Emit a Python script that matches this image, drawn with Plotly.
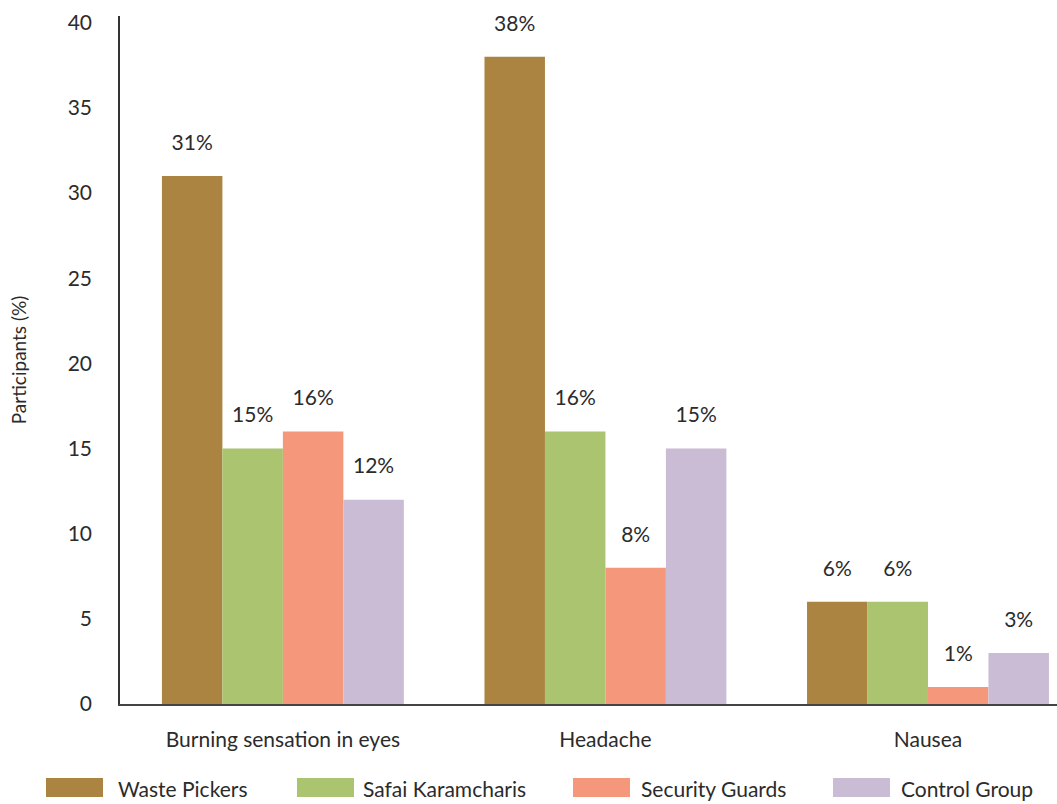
import plotly.graph_objects as go

# data
symptoms = ["Burning sensation in eyes", "Headache", "Nausea"]
waste_pickers = [31, 38, 6]
safai_karamcharis = [15, 16, 6]
security_guards = [16, 8, 1]
control_group = [12, 15, 3]

group_names = ["Waste Pickers", "Safai Karamcharis", "Security Guards", "Control Group"]
group_values = [waste_pickers, safai_karamcharis, security_guards, control_group]
group_colors = ["#AB8442", "#AAC46F", "#F5977A", "#CABCD4"]

FONT = "Lato, 'Noto Sans', sans-serif"
TEXT = "#2b2b2b"
FS = 21

fig = go.Figure()
for name, vals, color in zip(group_names, group_values, group_colors):
    fig.add_trace(go.Bar(
        x=symptoms, y=vals, name=name, offsetgroup=name,
        marker=dict(color=color, line=dict(width=0)),
        showlegend=False,
    ))

# value labels: invisible markers push the text a bit above each bar
for name, vals in zip(group_names, group_values):
    fig.add_trace(go.Scatter(
        x=symptoms, y=vals, offsetgroup=name, mode="markers+text",
        text=[f"{v}%" for v in vals], textposition="top center",
        marker=dict(size=32, opacity=0),
        textfont=dict(family=FONT, size=FS, color=TEXT),
        cliponaxis=False, showlegend=False, hoverinfo="skip",
    ))

# custom legend with wide swatches (plotly's bar legend icon is a tiny square)
W, L, T, B = 1057, 120, 16, 100
pw, ph = W - L, 804 - T - B
swatch_x = [46, 297, 573, 833]
label_x = [116, 361, 639, 899]
for name, color, sx, tx in zip(group_names, group_colors, swatch_x, label_x):
    fig.add_shape(type="rect", xref="paper", yref="paper",
                  x0=(sx - L) / pw, x1=(sx + 57 - L) / pw,
                  y0=(704 - 797) / ph, y1=(704 - 778) / ph,
                  fillcolor=color, line=dict(width=0))
    fig.add_annotation(xref="paper", yref="paper",
                       x=(tx - L) / pw, y=(704 - 789) / ph,
                       text=name, showarrow=False, xanchor="left", yanchor="middle",
                       font=dict(family=FONT, size=FS, color=TEXT))

fig.update_layout(
    width=W, height=804,
    margin=dict(l=L, r=0, t=T, b=B),
    barmode="group", bargap=0.25, bargroupgap=0,
    scattermode="group", scattergap=0.25,
    plot_bgcolor="white", paper_bgcolor="white",
    font=dict(family=FONT, size=FS, color=TEXT),
)
fig.update_xaxes(
    range=[-0.505, 2.4], showline=True, linecolor="#444", linewidth=1.5,
    showgrid=False, ticks="", ticklabelstandoff=16,
    tickfont=dict(size=FS),
)
fig.update_yaxes(
    range=[0, 40.4], dtick=5, showline=True, linecolor="#333", linewidth=1.5,
    showgrid=False, zeroline=False, ticks="", ticklabelstandoff=22,
    tickfont=dict(size=FS),
    title=dict(text="Participants (%)", font=dict(size=19), standoff=36),
)

fig.write_html("out.html", config={"displayModeBar": False},
               post_script="document.body.style.margin='0';")
